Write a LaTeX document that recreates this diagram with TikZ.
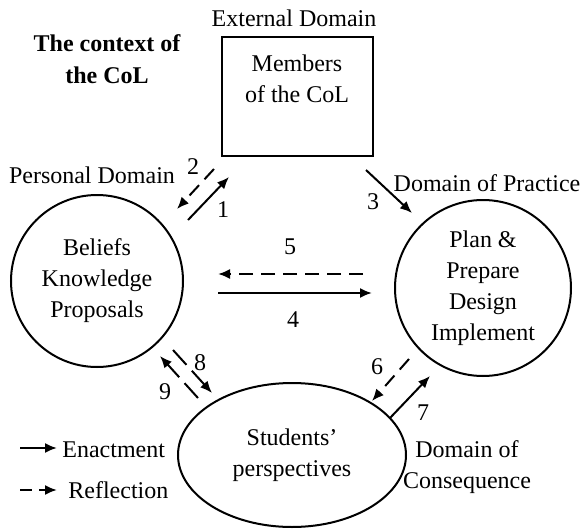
\documentclass[tikz,border=0pt]{standalone}
\usepackage{fontspec}
\setmainfont{Liberation Serif}
\usetikzlibrary{arrows.meta,shapes.geometric}

\begin{document}
\begin{tikzpicture}[x=0.5pt,y=-0.5pt,
      every node/.style={font=\fontsize{12}{15.5}\selectfont, align=center, inner sep=0pt},
      domcircle/.style={circle, draw, line width=1pt},
      enact/.style={-{Latex[length=6pt,width=5pt]}, line width=1pt},
      reflect/.style={enact, dash pattern=on 7pt off 4pt}]
  \useasboundingbox (0,0) rectangle (585,531);

  % title and domains
  \node[font=\fontsize{12}{16}\selectfont\bfseries] (title) at (107,59) {The context of\\the CoL};
  \node (extlbl) at (294,18) {External Domain};
  \node[draw, line width=1.2pt, minimum width=75.5pt, minimum height=59.5pt] (members) at (297.5,96.5) {};
  \node (memtxt) at (297,78.5) {Members\\of the CoL};
  \node (perslbl) at (92,175) {Personal Domain};
  \node[domcircle, minimum size=86pt] (beliefs) at (97,281) {Beliefs\\Knowledge\\Proposals};
  \node (practlbl) at (487,183) {Domain of Practice};
  \node[domcircle, minimum size=88pt] (plan) at (483,288) {Plan \&\\Prepare\\Design\\Implement};
  \node[ellipse, draw, line width=1pt, minimum width=114pt, minimum height=72pt] (students) at (292,455) {Students'\\perspectives};
  \node (conslbl) at (467,467) {Domain of\\Consequence};

  % arrow ends
  \foreach \n/\tx/\ty/\hx/\hy in {1/188/220/229/177, 2/214/169/177/209, 3/366/170/412/213,
      4/218/293/372/293, 5/363/274/218/274, 6/409/359/372/401, 7/390/418/430/376,
      8/173/350/212/393, 9/198/398/160/356, e/20/448/57/448, r/20/490/57/490}
    {\coordinate (t\n) at (\tx,\ty); \coordinate (h\n) at (\hx,\hy);}

  \draw[enact] (t1) -- (h1);
  \draw[reflect] (t2) -- (h2);
  \draw[enact] (t3) -- (h3);
  \draw[enact] (t4) -- (h4);
  \draw[reflect] (t5) -- (h5);
  \draw[reflect] (t6) -- (h6);
  \draw[enact] (t7) -- (h7);
  \draw[reflect, dash pattern=on 10pt off 4pt] (t8) -- (h8);
  \draw[reflect, dash pattern=on 10pt off 4pt] (t9) -- (h9);

  % arrow numbers
  \foreach \n/\x/\y in {1/223/210, 2/193/167, 3/373/202, 4/293/320, 5/290/247,
      6/377/367, 7/423/413, 8/200/363, 9/165/392}
    \node (n\n) at (\x,\y) {\n};

  % legend
  \draw[enact] (te) -- (he);
  \node[anchor=west] (enlbl) at (62,450) {Enactment};
  \draw[reflect, dash pattern=on 6pt off 3.5pt] (tr) -- (hr);
  \node[anchor=west] (relbl) at (68,490) {Reflection};
\end{tikzpicture}
\end{document}
